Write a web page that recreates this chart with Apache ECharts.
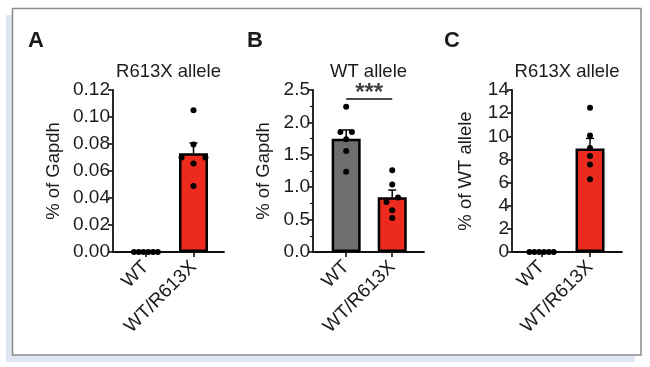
<!DOCTYPE html>
<html><head><meta charset="utf-8">
<script src="https://cdn.jsdelivr.net/npm/echarts@6/dist/echarts.min.js"></script>
<style>html,body{margin:0;padding:0;background:#fff}#c{width:650px;height:367px}</style>
</head><body><div id="c"></div>
<script>
// ---------- data ----------
const categories = ['WT', 'WT/R613X'];
const panelLetters = ['A', 'B', 'C'];
const panelTitles = ['R613X allele', 'WT allele', 'R613X allele'];
const yAxisNames = ['% of Gapdh', '% of Gapdh', '% of WT allele'];

const aWT = [0, 0, 0, 0, 0, 0];
const aR613X = [0.105, 0.0797, 0.070, 0.070, 0.0656, 0.0488];
const bWT = [2.24, 1.85, 1.85, 1.74, 1.56, 1.24];
const bR613X = [1.26, 1.04, 0.84, 0.77, 0.645, 0.525];
const cWT = [0, 0, 0, 0, 0, 0];
const cR613X = [12.46, 10.06, 8.98, 8.29, 7.57, 6.29];

const aYTicks = [0, 0.02, 0.04, 0.06, 0.08, 0.10, 0.12];
const bYTicks = [0, 0.5, 1.0, 1.5, 2.0, 2.5];
const cYTicks = [0, 2, 4, 6, 8, 10, 12, 14];
const tickDecimals = [2, 1, 0];

const sigPairB = [1, 2];
const sigLevelB = 2.36;
const sigLabelB = '***';

// ---------- helpers ----------
const FONT = '"Liberation Sans", Arial, sans-serif';
const TXT = '#1b1b1b';
const RED = '#ec2a1d';
const GREY = '#6e6e6e';

function mean(a) { return a.reduce((s, v) => s + v, 0) / a.length; }
function sem(a) {
  const m = mean(a);
  const v = a.reduce((s, x) => s + (x - m) * (x - m), 0) / (a.length - 1);
  return Math.sqrt(v) / Math.sqrt(a.length);
}
// simple beeswarm layout: cluster near-equal values and spread them sideways
function swarm(values, center, pxPerUnit, thrPx) {
  const idx = values.map((v, i) => i).sort((p, q) => values[p] - values[q]);
  const clusters = [];
  let cur = [idx[0]];
  for (let k = 1; k < idx.length; k++) {
    if ((values[idx[k]] - values[cur[cur.length - 1]]) * pxPerUnit < thrPx) cur.push(idx[k]);
    else { clusters.push(cur); cur = [idx[k]]; }
  }
  clusters.push(cur);
  const pts = [];
  clusters.forEach(cl => {
    const n = cl.length;
    const step = n > 1 ? Math.min(0.25, 0.5 / (n - 1)) : 0;
    const slots = [];
    for (let j = 0; j < n; j++) slots.push((j - (n - 1) / 2) * step);
    slots.sort((p, q) => Math.abs(p) - Math.abs(q) || p - q);
    cl.forEach((id, j) => pts.push([center + slots[j], values[id]]));
  });
  return pts;
}

const panels = [
  { groups: [aWT, aR613X], ticks: aYTicks, colors: [RED, RED], left: 113, width: 111, xmin: 0.31, xmax: 2.64, nameGap: 50 },
  { groups: [bWT, bR613X], ticks: bYTicks, colors: [GREY, RED], left: 313, width: 111, xmin: 0.28, xmax: 2.69, nameGap: 40 },
  { groups: [cWT, cR613X], ticks: cYTicks, colors: [RED, RED], left: 512, width: 110, xmin: 0.39, xmax: 2.66, nameGap: 37 }
];
panels[1].minor = true;
const GRID_TOP = 90, GRID_H = 162;

const grids = [], xAxes = [], yAxes = [], series = [], titles = [];
panels.forEach((p, i) => {
  const ymin = p.ticks[0], ymax = p.ticks[p.ticks.length - 1];
  grids.push({ left: p.left, top: GRID_TOP, width: p.width, height: GRID_H });
  xAxes.push({
    type: 'value', gridIndex: i, min: p.xmin, max: p.xmax,
    axisLine: { show: true, onZero: false, lineStyle: { color: '#111', width: 1.8 } },
    axisTick: { show: true, customValues: [1, 2], length: 5, lineStyle: { color: '#111', width: 1.6 } },
    axisLabel: {
      customValues: [1, 2], rotate: 45, margin: 12, fontSize: 19, fontFamily: FONT, color: TXT,
      formatter: v => categories[Math.round(v) - 1] || ''
    },
    splitLine: { show: false }
  });
  yAxes.push({
    type: 'value', gridIndex: i, min: ymin, max: ymax, interval: p.ticks[1] - p.ticks[0],
    name: yAxisNames[i], nameLocation: 'middle', nameGap: p.nameGap,
    nameTextStyle: { fontSize: 18.5, fontFamily: FONT, color: TXT },
    axisLine: { show: true, lineStyle: { color: '#111', width: 1.8 } },
    axisTick: { show: true, length: 5, lineStyle: { color: '#111', width: 1.6 } },
    minorTick: { show: !!p.minor, splitNumber: 2, length: 3, lineStyle: { color: '#111', width: 1.2 } },
    axisLabel: { fontSize: 19, fontFamily: FONT, color: TXT, margin: 3, formatter: v => v.toFixed(tickDecimals[i]) },
    splitLine: { show: false }
  });
  const pxPerUnit = GRID_H / (ymax - ymin);
  // bars
  series.push({
    type: 'bar', xAxisIndex: i, yAxisIndex: i, barWidth: 29, z: 2, animation: false,
    data: p.groups.map((g, k) => ({ value: [k + 1, mean(g)], itemStyle: { color: p.colors[k] } })),
    itemStyle: { borderColor: '#000', borderWidth: 2.5 }
  });
  // error bars (mean + SEM)
  series.push({
    type: 'custom', xAxisIndex: i, yAxisIndex: i, z: 3, animation: false,
    data: p.groups.map((g, k) => [k + 1, mean(g), mean(g) + sem(g)]).filter(d => d[2] > d[1]),
    renderItem: (params, api) => {
      const x = api.value(0), m = api.value(1), t = api.value(2);
      const p0 = api.coord([x, m]), p1 = api.coord([x, t]);
      const cap = 4;
      return { type: 'group', children: [
        { type: 'line', shape: { x1: p0[0], y1: p0[1], x2: p1[0], y2: p1[1] }, style: { stroke: '#000', lineWidth: 1.5 } },
        { type: 'line', shape: { x1: p1[0] - cap, y1: p1[1], x2: p1[0] + cap, y2: p1[1] }, style: { stroke: '#000', lineWidth: 1.5 } }
      ] };
    }
  });
  // individual points
  p.groups.forEach((g, k) => {
    series.push({
      type: 'scatter', xAxisIndex: i, yAxisIndex: i, z: 4, animation: false,
      symbolSize: 6, itemStyle: { color: '#000', opacity: 1 },
      data: swarm(g, k + 1, pxPerUnit, 6.5)
    });
  });
  titles.push({
    text: panelTitles[i], left: p.left + p.width / 2, top: 62, textAlign: 'center', padding: 0,
    textStyle: { fontSize: 18.5, fontWeight: 'normal', fontFamily: FONT, color: TXT }
  });
  titles.push({
    text: panelLetters[i], left: [28, 247, 444][i], top: 30, padding: 0,
    textStyle: { fontSize: 22, fontWeight: 'bold', fontFamily: FONT, color: TXT }
  });
});

// significance bracket in panel B
series.push({
  type: 'line', xAxisIndex: 1, yAxisIndex: 1, z: 3, animation: false, symbol: 'none',
  lineStyle: { color: '#111', width: 1.5 },
  data: sigPairB.map(x => [x, sigLevelB])
});
series.push({
  type: 'scatter', xAxisIndex: 1, yAxisIndex: 1, z: 3, animation: false, symbolSize: 0,
  data: [[(sigPairB[0] + sigPairB[1]) / 2, sigLevelB]],
  label: { show: true, position: 'top', distance: -6, formatter: sigLabelB, fontSize: 24, fontWeight: 'bold', fontFamily: FONT, color: '#111' }
});

const chart = echarts.init(document.getElementById('c'), null, { renderer: 'canvas' });
chart.setOption({
  animation: false,
  backgroundColor: '#fff',
  title: titles,
  grid: grids,
  xAxis: xAxes,
  yAxis: yAxes,
  series: series,
  graphic: [
    { type: 'rect', z: -10, shape: { x: 6, y: 15, width: 629, height: 347 }, style: { fill: '#dfe7f5' } },
    { type: 'rect', z: -9, shape: { x: 12.5, y: 8.5, width: 628.5, height: 346.5 }, style: { fill: '#fff', stroke: '#8a8a8a', lineWidth: 1.5 } }
  ]
});
</script>
</body></html>
